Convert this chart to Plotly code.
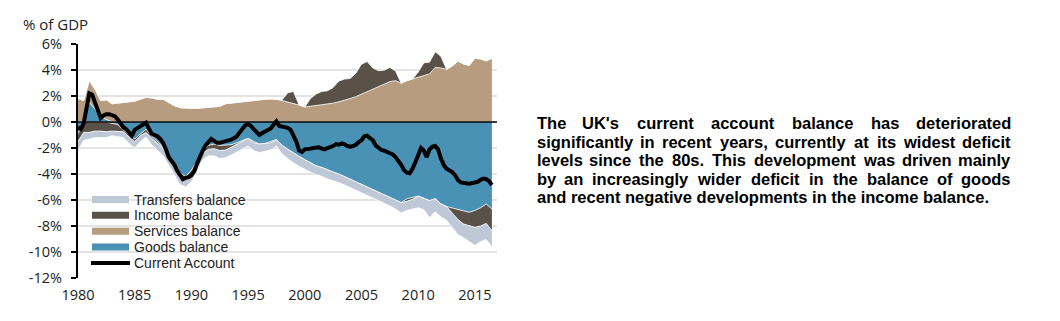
import plotly.graph_objects as go

# ---------------- data (% of GDP) ----------------
half_years = [1980 + 0.5 * i for i in range(74)]          # 1980H1 .. 2016H2
quarters = [1980 + 0.25 * i for i in range(147)]          # 1980Q1 .. 2016Q3

goods = [-0.9, 0.1, 1.5, 1.0, 0.4, 0.2, -0.1, -0.2, -0.6, -1.0,
         -1.3, -0.9, -0.55, -1.1, -1.5, -1.9, -2.6, -3.3, -3.9, -4.2,
         -3.7, -3.0, -2.2, -1.8, -1.7, -1.8, -1.8, -1.75, -1.6, -1.4,
         -1.25, -1.5, -1.7, -1.65, -1.5, -1.35, -1.8, -2.1, -2.4, -2.65,
         -2.9, -3.15, -3.37, -3.5, -3.7, -3.85, -4.0, -4.2, -4.4, -4.6,
         -4.78, -4.95, -5.17, -5.35, -5.55, -5.8, -6.0, -6.2, -5.9, -5.8,
         -5.7, -5.85, -6.05, -5.9, -6.3, -6.5, -6.6, -6.7, -6.85, -6.95,
         -6.8, -6.6, -6.3, -6.7]

services = [1.8, 1.55, 1.7, 1.5, 1.25, 1.5, 1.4, 1.45, 1.5, 1.55,
            1.6, 1.75, 1.9, 1.85, 1.75, 1.75, 1.5, 1.25, 1.1, 1.05,
            1.05, 1.05, 1.1, 1.1, 1.15, 1.2, 1.4, 1.45, 1.5, 1.55,
            1.65, 1.7, 1.7, 1.75, 1.77, 1.75, 1.65, 1.55, 1.45, 1.3,
            1.15, 1.2, 1.25, 1.35, 1.4, 1.45, 1.55, 1.65, 1.8, 1.95,
            2.15, 2.35, 2.55, 2.75, 2.93, 3.1, 3.18, 2.98, 3.18, 3.3,
            3.44, 3.55, 3.7, 4.2, 4.16, 4.05, 4.3, 4.67, 4.47, 4.35,
            4.9, 4.85, 4.7, 4.9]

income = [-0.6, -0.8, -0.8, -0.7, -0.7, -0.75, -0.6, -0.5, -0.15, -0.15,
          -0.2, -0.15, -0.25, -0.15, -0.1, -0.1, -0.1, -0.15, -0.3, -0.2,
          -0.3, -0.2, -0.2, -0.3, -0.35, -0.4, -0.35, -0.2, -0.1, -0.05,
          0.0, -0.1, 0.0, 0.0, -0.1, 0.0, 0.05, 0.7, 0.9, 0.0,
          0.0, 0.6, 0.9, 1.0, 1.0, 1.2, 1.6, 1.65, 1.55, 1.8,
          2.3, 2.3, 1.6, 1.2, 1.05, 1.1, 0.75, 0.0, -0.2, -0.15,
          0.4, 1.0, 0.9, 1.2, 0.9, 0.0, -0.4, -0.8, -1.0, -1.0,
          -1.3, -1.4, -1.5, -1.65]

transfers = [-0.7, -0.6, -0.5, -0.5, -0.5, -0.45, -0.35, -0.4, -0.45, -0.5,
             -0.5, -0.45, -0.35, -0.5, -0.6, -0.6, -0.6, -0.6, -0.6, -0.6,
             -0.6, -0.6, -0.5, -0.5, -0.55, -0.6, -0.6, -0.6, -0.6, -0.6,
             -0.6, -0.6, -0.65, -0.6, -0.55, -0.5, -0.65, -0.7, -0.75, -0.75,
             -0.75, -0.7, -0.68, -0.68, -0.68, -0.66, -0.66, -0.64, -0.64, -0.64,
             -0.65, -0.65, -0.64, -0.65, -0.65, -0.65, -0.7, -0.8, -0.7, -0.75,
             -0.9, -0.9, -1.3, -1.0, -1.0, -1.05, -1.1, -1.15, -1.05, -1.25,
             -1.4, -1.2, -1.25, -1.25]

current_account = [
    -0.4, -0.55, -0.1, 1.2,     2.2, 2.1, 1.5, 0.8,       0.3, 0.5, 0.6, 0.6,
    0.5, 0.45, 0.2, -0.15,      -0.4, -0.55, -0.8, -1.05, -0.6, -0.45, -0.35, -0.2,
    -0.05, -0.5, -0.9, -1.0,    -1.1, -1.3, -1.6, -2.1,   -2.7, -3.0, -3.3, -3.75,
    -4.1, -4.4, -4.3, -4.25,    -4.1, -3.8, -3.2, -2.6,   -2.2, -1.8, -1.5, -1.3,
    -1.45, -1.6, -1.6, -1.55,   -1.5, -1.45, -1.35, -1.25, -1.1, -0.8, -0.5, -0.25,
    -0.15, -0.3, -0.55, -0.75,  -1.0, -0.85, -0.75, -0.65, -0.5, -0.2, 0.05, -0.3,
    -0.35, -0.4, -0.45, -0.6,   -1.0, -1.5, -2.2, -2.3,   -2.1, -2.1, -2.05, -2.0,
    -2.0, -1.95, -2.05, -2.1,   -2.0, -1.95, -1.85, -1.7, -1.75, -1.65, -1.7, -1.85,
    -1.9, -1.85, -1.75, -1.55,  -1.4, -1.1, -1.05, -1.25, -1.4, -1.8, -2.0, -2.15,
    -2.2, -2.3, -2.35, -2.5,    -2.7, -2.95, -3.3, -3.7,  -3.9, -3.95, -3.6, -3.1,
    -2.6, -2.0, -2.2, -2.7,     -2.1, -1.9, -1.85, -2.1,  -2.8, -3.3, -3.6, -3.75,
    -3.85, -4.1, -4.45, -4.65,  -4.7, -4.75, -4.75, -4.7, -4.65, -4.6, -4.45, -4.35,
    -4.4, -4.55, -4.85]

x_tick_values = [1980, 1985, 1990, 1995, 2000, 2005, 2010, 2015]
x_tick_labels = ["1980", "1985", "1990", "1995", "2000", "2005", "2010", "2015"]
y_tick_values = [-12, -10, -8, -6, -4, -2, 0, 2, 4, 6]
y_tick_labels = ["-12%", "-10%", "-8%", "-6%", "-4%", "-2%", "0%", "2%", "4%", "6%"]

series_names = ["Transfers balance", "Income balance", "Services balance",
                "Goods balance", "Current Account"]
commentary = [
    "The UK's current account balance has deteriorated",
    "significantly in recent years, currently at its widest deficit",
    "levels since the 80s. This development was driven mainly",
    "by an increasingly wider deficit in the balance of goods",
    "and recent negative developments in the income balance.",
]

# ---------------- styling ----------------
C_TRANS = "#BEC8D7"
C_INC = "#5A5249"
C_SERV = "#B89C7F"
C_GOODS = "#4A91B6"
FONT = "Open Sans"
TFONT = "Liberation Sans"
TXT = "#222222"

W, H = 1060, 321
L, R, T, B = 78, 497, 44, 278


def xp(px):
    return (px - L) / (R - L)


def yp(py):
    return (B - py) / (B - T)


pos = lambda s: [max(v, 0.0) for v in s]
neg = lambda s: [min(v, 0.0) for v in s]

fig = go.Figure()
edge = dict(color="white", width=0.8)

# positive stack: goods (when surplus), services, income (when surplus)
fig.add_trace(go.Scatter(x=half_years, y=pos(goods), stackgroup="pos", mode="lines",
                         line=edge, fillcolor=C_GOODS, name="Goods balance"))
fig.add_trace(go.Scatter(x=half_years, y=pos(services), stackgroup="pos", mode="lines",
                         line=edge, fillcolor=C_SERV, name="Services balance"))
fig.add_trace(go.Scatter(x=half_years, y=pos(income), stackgroup="pos", mode="lines",
                         line=edge, fillcolor=C_INC, name="Income balance"))
# negative stack: goods, income, transfers
fig.add_trace(go.Scatter(x=half_years, y=neg(goods), stackgroup="neg", mode="lines",
                         line=edge, fillcolor=C_GOODS, name="Goods balance"))
fig.add_trace(go.Scatter(x=half_years, y=neg(income), stackgroup="neg", mode="lines",
                         line=edge, fillcolor=C_INC, name="Income balance"))
fig.add_trace(go.Scatter(x=half_years, y=neg(transfers), stackgroup="neg", mode="lines",
                         line=edge, fillcolor=C_TRANS, name="Transfers balance"))
# current account line
fig.add_trace(go.Scatter(x=quarters, y=current_account, mode="lines",
                         line=dict(color="black", width=4), name="Current Account"))

shapes = []
annotations = []

# zero line on top of the areas
shapes.append(dict(type="line", xref="paper", yref="y", x0=0, x1=1, y0=0, y1=0,
                   line=dict(color="black", width=1.6), layer="above"))

# manual legend (compact rows as in the reference)
shapes.append(dict(type="rect", xref="paper", yref="paper",
                   x0=xp(88), x1=xp(256), y0=yp(271), y1=yp(191),
                   fillcolor="white", line=dict(width=0), layer="between"))
leg_colors = [C_TRANS, C_INC, C_SERV, C_GOODS, None]
for i, (nm, col) in enumerate(zip(series_names, leg_colors)):
    cy = 199.5 + 15.85 * i
    if col is not None:
        shapes.append(dict(type="rect", xref="paper", yref="paper",
                           x0=xp(92), x1=xp(129), y0=yp(cy + 3.5), y1=yp(cy - 3.5),
                           fillcolor=col, line=dict(width=0), layer="above"))
    else:
        shapes.append(dict(type="line", xref="paper", yref="paper",
                           x0=xp(91), x1=xp(130), y0=yp(cy), y1=yp(cy),
                           line=dict(color="black", width=4), layer="above"))
    annotations.append(dict(xref="paper", yref="paper", x=xp(133), y=yp(cy),
                            xanchor="left", yanchor="middle", showarrow=False,
                            borderpad=0,
                            text=nm, font=dict(family=TFONT, size=14, color=TXT)))

# axis title
annotations.append(dict(xref="paper", yref="paper", x=xp(21), y=yp(24),
                        xanchor="left", yanchor="middle", showarrow=False,
                        text="% of GDP", font=dict(family=FONT, size=15, color=TXT)))

# justified commentary text (word advance widths for a bold sans, in em)
EM = {" ": 0.278, "'": 0.238, ",": 0.278, ".": 0.278, "T": 0.611, "U": 0.722,
      "K": 0.722, "8": 0.556, "0": 0.556, "a": 0.556, "b": 0.611, "c": 0.556,
      "d": 0.611, "e": 0.556, "f": 0.333, "g": 0.611, "h": 0.611, "i": 0.278,
      "l": 0.278, "m": 0.889, "n": 0.611, "o": 0.611, "p": 0.611, "r": 0.389,
      "s": 0.556, "t": 0.333, "u": 0.611, "v": 0.556, "w": 0.778, "y": 0.556,
      "x": 0.556, "k": 0.556}
FS = 16.5


def tw(s):
    return sum(EM.get(c, 0.6) for c in s) * FS


X0, X1 = 535.5, 1012
line_y = [123.0, 141.5, 160.0, 178.5, 197.0]
bfont = dict(family=TFONT, size=FS, color="black")
for li, line in enumerate(commentary):
    cy = line_y[li]
    if li == len(commentary) - 1:
        annotations.append(dict(xref="paper", yref="paper", x=xp(X0), y=yp(cy),
                                xanchor="left", yanchor="middle", showarrow=False,
                                borderpad=0,
                                text="<b>" + line + "</b>", font=bfont))
        continue
    words = line.split()
    widths = [tw(w) for w in words]
    gap = (X1 - X0 - sum(widths)) / (len(words) - 1)
    x = X0
    for wi, (wd, wdt) in enumerate(zip(words, widths)):
        if wi == 0:
            ax, anc = x, "left"
        elif wi == len(words) - 1:
            ax, anc = X1, "right"
        else:
            ax, anc = x + wdt / 2, "center"
        annotations.append(dict(xref="paper", yref="paper", x=xp(ax), y=yp(cy),
                                xanchor=anc, yanchor="middle", showarrow=False,
                                borderpad=0,
                                text="<b>" + wd + "</b>", font=bfont))
        x += wdt + gap

fig.update_layout(
    width=W, height=H,
    margin=dict(l=L, r=W - R, t=T, b=H - B, pad=0),
    paper_bgcolor="white", plot_bgcolor="white",
    showlegend=False,
    font=dict(family=FONT, size=14, color=TXT),
    xaxis=dict(range=[1980, 2016.95], tickvals=x_tick_values, ticktext=x_tick_labels,
               showgrid=False, zeroline=False, showline=False, ticks="",
               tickfont=dict(family=FONT, size=14.5, color=TXT), ticklabelstandoff=6),
    yaxis=dict(range=[-12, 6], tickvals=y_tick_values, ticktext=y_tick_labels,
               showgrid=True, gridcolor="#E4E4E4", gridwidth=1.5, zeroline=False,
               showline=True, linecolor="black", linewidth=2,
               ticks="outside", ticklen=5, tickwidth=1.5, tickcolor="black",
               tickfont=dict(family=FONT, size=14.5, color=TXT), ticklabelstandoff=6),
    shapes=shapes,
    annotations=annotations,
)

fig.write_html("out.html")
